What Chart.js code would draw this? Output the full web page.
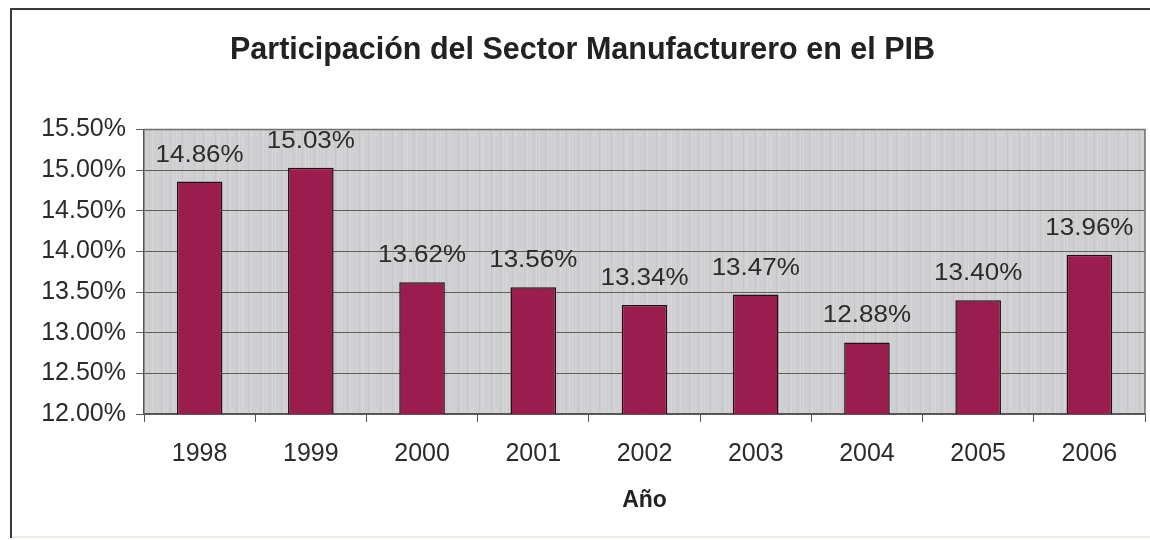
<!DOCTYPE html>
<html lang="es">
<head>
<meta charset="utf-8">
<title>Participación del Sector Manufacturero en el PIB</title>
<script src="https://cdn.jsdelivr.net/npm/chart.js@4/dist/chart.umd.min.js"></script>
<style>
  html, body { margin: 0; padding: 0; background: #ffffff; }
  #wrap { position: relative; width: 1150px; height: 540px; }
</style>
</head>
<body>
<div id="wrap"><canvas id="chart" width="1150" height="540"></canvas></div>
<script>
// Años y participación (%) del sector manufacturero en el PIB
const years = ['1998', '1999', '2000', '2001', '2002', '2003', '2004', '2005', '2006'];
const shares = [14.86, 15.03, 13.62, 13.56, 13.34, 13.47, 12.88, 13.40, 13.96];
const yTicks = [12.0, 12.5, 13.0, 13.5, 14.0, 14.5, 15.0, 15.5];

const FONT = "'Liberation Sans', Arial, sans-serif";
const pct = v => Number(v).toFixed(2) + '%';

// Gray plot background with fine vertical streaks, plot border and outer frame
const framePlugin = {
  id: 'frame',
  beforeDraw(chart) {
    const { ctx, chartArea: a } = chart;
    ctx.save();
    ctx.fillStyle = '#cfcfd1';
    ctx.fillRect(a.left, a.top, a.right - a.left, a.bottom - a.top);
    for (let x = Math.floor(a.left) + 2; x < a.right; x += 3) {
      const k = (x * 7919) % 11;
      ctx.fillStyle = k < 4 ? 'rgba(255,255,255,0.18)' : (k < 7 ? 'rgba(0,0,0,0.035)' : 'rgba(255,255,255,0.06)');
      ctx.fillRect(x, a.top, 1, a.bottom - a.top);
    }
    ctx.restore();
  },
  afterDraw(chart) {
    const { ctx, chartArea: a } = chart;
    ctx.save();
    // plot area border
    ctx.strokeStyle = '#6f6f6f';
    ctx.lineWidth = 1.5;
    ctx.beginPath();
    ctx.moveTo(a.left, a.top);
    ctx.lineTo(a.right, a.top);
    ctx.lineTo(a.right, a.bottom);
    ctx.stroke();
    // outer chart frame
    ctx.strokeStyle = '#3a3a3a';
    ctx.lineWidth = 2;
    ctx.beginPath();
    ctx.moveTo(11, 538);
    ctx.lineTo(11, 9);
    ctx.lineTo(1150, 9);
    ctx.stroke();
    ctx.strokeStyle = '#e6e6da';
    ctx.lineWidth = 1.5;
    ctx.beginPath();
    ctx.moveTo(12, 537);
    ctx.lineTo(1150, 537);
    ctx.stroke();
    ctx.restore();
  }
};

// Value labels above each bar (slightly wide lettering)
const valueLabels = {
  id: 'valueLabels',
  afterDatasetsDraw(chart) {
    const { ctx } = chart;
    const meta = chart.getDatasetMeta(0);
    meta.data.forEach((bar, i) => {
      ctx.save();
      ctx.font = '23px ' + FONT;
      ctx.fillStyle = '#2b2b2b';
      ctx.textAlign = 'center';
      ctx.textBaseline = 'alphabetic';
      ctx.translate(bar.x, bar.y - 20);
      ctx.scale(1.13, 1);
      ctx.fillText(pct(chart.data.datasets[0].data[i]), 0, 0);
      ctx.restore();
    });
  }
};

new Chart(document.getElementById('chart'), {
  type: 'bar',
  data: {
    labels: years,
    datasets: [{
      data: shares,
      backgroundColor: '#9b1d4e',
      borderColor: '#1e1014',
      borderWidth: 1.5,
      borderSkipped: 'bottom',
      categoryPercentage: 1.0,
      barPercentage: 0.41
    }]
  },
  options: {
    responsive: false,
    animation: false,
    layout: { padding: { left: 20, right: 5, top: 0, bottom: 0 } },
    plugins: {
      legend: { display: false },
      tooltip: { enabled: false },
      title: {
        display: true,
        text: 'Participación del Sector Manufacturero en el PIB',
        color: '#222222',
        font: { family: FONT, size: 30.5, weight: 'bold', lineHeight: 1.2 },
        padding: { top: 32, bottom: 61 }
      }
    },
    scales: {
      x: {
        grid: {
          display: true,
          offset: true,
          drawOnChartArea: false,
          drawTicks: true,
          tickLength: 8,
          color: '#555555',
          lineWidth: 1
        },
        border: { display: true, color: '#555555', width: 1.5 },
        ticks: {
          color: '#2b2b2b',
          font: { family: FONT, size: 25 },
          padding: 17,
          maxRotation: 0
        },
        title: {
          display: true,
          text: 'Año',
          color: '#222222',
          font: { family: FONT, size: 23, weight: 'bold', lineHeight: 1.2 },
          padding: { top: 0, bottom: 26 }
        },
        afterFit(scale) { scale.height = 126; }
      },
      y: {
        min: 12,
        max: 15.5,
        afterBuildTicks(scale) { scale.ticks = yTicks.map(v => ({ value: v })); },
        grid: {
          display: true,
          drawOnChartArea: true,
          drawTicks: true,
          tickLength: 8,
          color: '#5e5e5e',
          lineWidth: 1
        },
        border: { display: true, color: '#555555', width: 1.5 },
        ticks: {
          color: '#2b2b2b',
          font: { family: FONT, size: 25 },
          padding: 10,
          callback: v => pct(v)
        },
        afterFit(scale) { scale.width = 124; }
      }
    }
  },
  plugins: [framePlugin, valueLabels]
});
</script>
</body>
</html>
